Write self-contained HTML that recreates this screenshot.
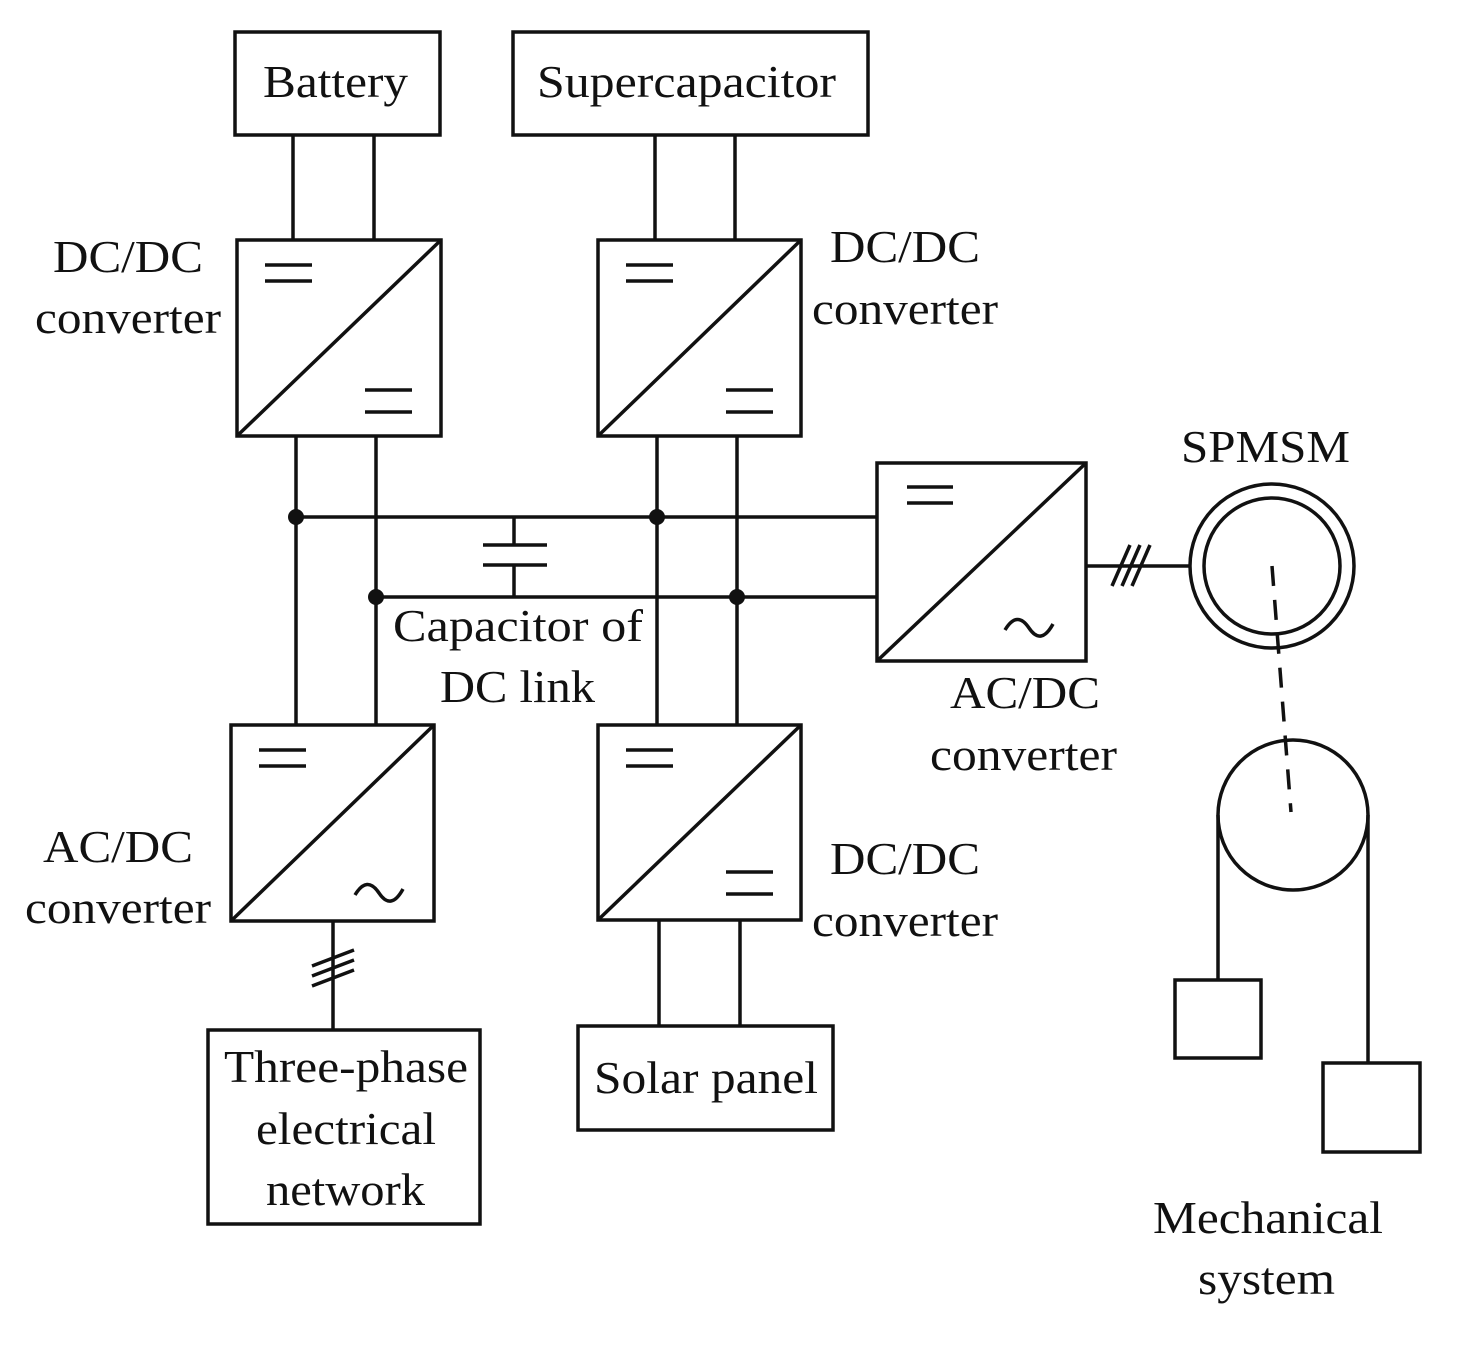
<!DOCTYPE html>
<html><head><meta charset="utf-8"><style>
html,body{margin:0;padding:0;background:#fff;}
svg text{font-family:"Liberation Serif",serif;font-size:46px;fill:#111;}
</style></head><body>
<svg width="1458" height="1340" viewBox="0 0 1458 1340" xmlns="http://www.w3.org/2000/svg">
<g stroke="#111" stroke-width="3.5" fill="none">
<rect x="235" y="32" width="205" height="103"/>
<rect x="513" y="32" width="355" height="103"/>
<line x1="293" y1="135" x2="293" y2="240"/><line x1="374" y1="135" x2="374" y2="240"/>
<line x1="655" y1="135" x2="655" y2="240"/><line x1="735" y1="135" x2="735" y2="240"/>
<rect x="237" y="240" width="204" height="196"/><line x1="237" y1="436" x2="441" y2="240"/>
<line x1="265" y1="265" x2="312" y2="265"/><line x1="265" y1="281" x2="312" y2="281"/>
<line x1="365" y1="390" x2="412" y2="390"/><line x1="365" y1="412" x2="412" y2="412"/>
<rect x="598" y="240" width="203" height="196"/><line x1="598" y1="436" x2="801" y2="240"/>
<line x1="626" y1="265" x2="673" y2="265"/><line x1="626" y1="281" x2="673" y2="281"/>
<line x1="726" y1="390" x2="773" y2="390"/><line x1="726" y1="412" x2="773" y2="412"/>
<line x1="296" y1="436" x2="296" y2="725"/><line x1="376" y1="436" x2="376" y2="725"/>
<line x1="657" y1="436" x2="657" y2="725"/><line x1="737" y1="436" x2="737" y2="725"/>
<line x1="296" y1="517" x2="878" y2="517"/><line x1="376" y1="597" x2="878" y2="597"/>
<line x1="514" y1="517" x2="514" y2="545"/><line x1="514" y1="565" x2="514" y2="597"/>
<line x1="483" y1="545" x2="547" y2="545"/><line x1="483" y1="565" x2="547" y2="565"/>
<rect x="877" y="463" width="209" height="198"/><line x1="877" y1="661" x2="1086" y2="463"/>
<line x1="907" y1="487" x2="953" y2="487"/><line x1="907" y1="503" x2="953" y2="503"/>
<path d="M1005 630 q12 -20 24 -2 t24 -4"/>
<line x1="1086" y1="566" x2="1190" y2="566"/>
<line x1="1112" y1="586" x2="1130" y2="545"/><line x1="1122" y1="586" x2="1140" y2="545"/><line x1="1132" y1="586" x2="1150" y2="545"/>
<circle cx="1272" cy="566" r="82"/><circle cx="1272" cy="566" r="68"/>
<line x1="1272" y1="566" x2="1291" y2="812" stroke-dasharray="20,14"/>
<circle cx="1293" cy="815" r="75"/>
<line x1="1218" y1="815" x2="1218" y2="980"/><line x1="1368" y1="815" x2="1368" y2="1063"/>
<rect x="1175" y="980" width="86" height="78"/>
<rect x="1323" y="1063" width="97" height="89"/>
<rect x="231" y="725" width="203" height="196"/><line x1="231" y1="921" x2="434" y2="725"/>
<line x1="259" y1="750" x2="306" y2="750"/><line x1="259" y1="766" x2="306" y2="766"/>
<path d="M355 895 q12 -20 24 -2 t24 -4"/>
<line x1="333" y1="921" x2="333" y2="1030"/>
<line x1="312" y1="966" x2="354" y2="950"/><line x1="312" y1="976" x2="354" y2="960"/><line x1="312" y1="986" x2="354" y2="970"/>
<rect x="208" y="1030" width="272" height="194"/>
<rect x="598" y="725" width="203" height="195"/><line x1="598" y1="920" x2="801" y2="725"/>
<line x1="626" y1="750" x2="673" y2="750"/><line x1="626" y1="766" x2="673" y2="766"/>
<line x1="726" y1="872" x2="773" y2="872"/><line x1="726" y1="894" x2="773" y2="894"/>
<line x1="659" y1="920" x2="659" y2="1026"/><line x1="740" y1="920" x2="740" y2="1026"/>
<rect x="578" y="1026" width="255" height="104"/>
</g>
<g fill="#111">
<circle cx="296" cy="517" r="8"/><circle cx="657" cy="517" r="8"/>
<circle cx="376" cy="597" r="8"/><circle cx="737" cy="597" r="8"/>
</g>
<g lengthAdjust="spacingAndGlyphs">
<text x="263" y="97" textLength="145" lengthAdjust="spacingAndGlyphs">Battery</text>
<text x="537" y="97" textLength="299" lengthAdjust="spacingAndGlyphs">Supercapacitor</text>
<text x="53" y="272" textLength="150" lengthAdjust="spacingAndGlyphs">DC/DC</text>
<text x="35" y="333" textLength="186" lengthAdjust="spacingAndGlyphs">converter</text>
<text x="830" y="262" textLength="150" lengthAdjust="spacingAndGlyphs">DC/DC</text>
<text x="812" y="324" textLength="186" lengthAdjust="spacingAndGlyphs">converter</text>
<text x="1181" y="462" textLength="169" lengthAdjust="spacingAndGlyphs">SPMSM</text>
<text x="393" y="641" textLength="250" lengthAdjust="spacingAndGlyphs">Capacitor of</text>
<text x="440" y="702" textLength="155" lengthAdjust="spacingAndGlyphs">DC link</text>
<text x="950" y="708" textLength="150" lengthAdjust="spacingAndGlyphs">AC/DC</text>
<text x="930" y="770" textLength="187" lengthAdjust="spacingAndGlyphs">converter</text>
<text x="43" y="862" textLength="150" lengthAdjust="spacingAndGlyphs">AC/DC</text>
<text x="25" y="923" textLength="186" lengthAdjust="spacingAndGlyphs">converter</text>
<text x="830" y="874" textLength="150" lengthAdjust="spacingAndGlyphs">DC/DC</text>
<text x="812" y="936" textLength="186" lengthAdjust="spacingAndGlyphs">converter</text>
<text x="224" y="1082" textLength="244" lengthAdjust="spacingAndGlyphs">Three-phase</text>
<text x="256" y="1144" textLength="180" lengthAdjust="spacingAndGlyphs">electrical</text>
<text x="266" y="1205" textLength="159" lengthAdjust="spacingAndGlyphs">network</text>
<text x="594" y="1093" textLength="224" lengthAdjust="spacingAndGlyphs">Solar panel</text>
<text x="1153" y="1233" textLength="230" lengthAdjust="spacingAndGlyphs">Mechanical</text>
<text x="1198" y="1294" textLength="137" lengthAdjust="spacingAndGlyphs">system</text>
</g>
</svg>
</body></html>
